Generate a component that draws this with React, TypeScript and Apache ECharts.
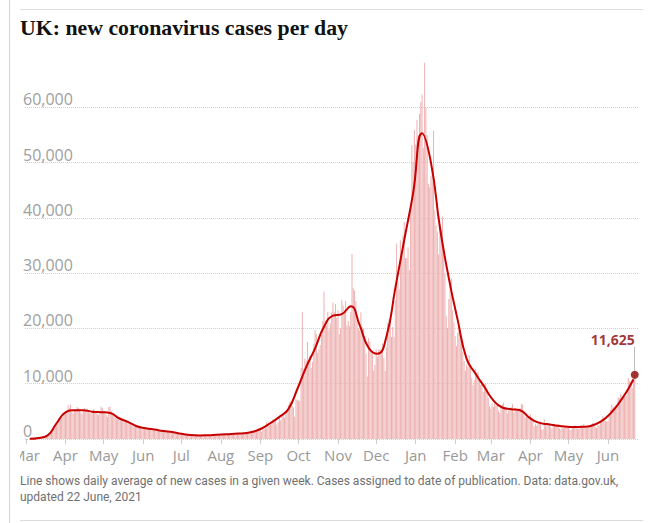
import React, { useEffect, useRef } from "react";
import * as echarts from "echarts";

// Daily new cases by publication date (UK)
const mar20 = [15, 20, 25, 40, 60, 80, 90, 110, 120, 150, 200, 250, 350, 450, 500, 550, 700, 900, 1100, 1300, 1500, 1600, 1900, 2500, 2900, 3200, 3600, 3900, 4100, 4300, 4500];
const apr20 = [4700, 5200, 6100, 5600, 6200, 4900, 4600, 5400, 5300, 5800, 5600, 5200, 4800, 4500, 5100, 5600, 5300, 5500, 5000, 4700, 4600, 5100, 5400, 5200, 4900, 4500, 4300, 4800, 5900, 5600];
const may20 = [5000, 4800, 4300, 4000, 5800, 5900, 5100, 4600, 4200, 3900, 3600, 3800, 4000, 3700, 3500, 3300, 3100, 3200, 3400, 3000, 2800, 2700, 2500, 2400, 2300, 2600, 2500, 2300, 2100, 2000, 1900];
const jun20 = [1900, 1800, 2000, 1900, 1800, 1700, 1600, 1600, 1700, 1650, 1500, 1500, 1450, 1400, 1350, 1400, 1450, 1400, 1300, 1250, 1200, 1250, 1300, 1250, 1200, 1100, 1050, 1000, 950, 900];
const jul20 = [850, 800, 750, 720, 700, 680, 650, 630, 640, 620, 600, 620, 640, 650, 660, 650, 640, 660, 670, 680, 700, 690, 680, 700, 720, 710, 700, 720, 740, 750, 760];
const aug20 = [780, 800, 790, 810, 850, 870, 880, 900, 880, 860, 900, 950, 1000, 1050, 1000, 980, 1020, 1050, 1080, 1100, 1120, 1080, 1050, 1100, 1150, 1200, 1250, 1300, 1350, 1400, 1450];
const sep20 = [1715, 1295, 1735, 1813, 1940, 2988, 2948, 2460, 2659, 2919, 3539, 3497, 3330, 2621, 3105, 3991, 3395, 4322, 4422, 3899, 4368, 4926, 6178, 6634, 6874, 6042, 5693, 4044, 7143, 7108];
const oct20 = [6914, 6968, 12872, 22961, 12594, 14542, 14162, 17540, 13864, 15166, 12872, 13972, 17234, 19724, 18980, 15650, 16171, 16982, 18804, 21331, 26688, 21242, 20530, 23012, 19790, 20890, 22885, 24701, 23065, 24405, 21915];
const nov20 = [23254, 18950, 20018, 25177, 24141, 23287, 24957, 20572, 21350, 20412, 22950, 33470, 27301, 26860, 24962, 21363, 20051, 19609, 22915, 20252, 19875, 18662, 15450, 11299, 18213, 17555, 16022, 15871, 12330, 13430];
const dec20 = [16202, 14879, 16170, 16298, 15539, 17272, 14718, 12282, 16578, 20964, 21672, 21502, 18447, 20263, 18450, 25161, 35383, 28507, 27052, 35928, 33364, 36804, 39237, 32725, 32725, 34693, 30501, 41385, 53135, 50023, 55892];
const jan21 = [53285, 57725, 54990, 58784, 60916, 62322, 52618, 68053, 59937, 54940, 46169, 45533, 47525, 48682, 55761, 41346, 38598, 37535, 33355, 38905, 37892, 40261, 33552, 30004, 22195, 20089, 25308, 28680, 29079, 23275, 21088];
const feb21 = [18607, 16840, 19202, 20634, 19114, 18262, 15845, 14104, 12364, 13494, 13013, 15144, 13308, 10972, 9765, 10625, 12718, 12057, 12027, 10406, 9834, 10641, 8489, 9938, 9985, 8523, 7434, 6035];
const mar21 = [5455, 6391, 5766, 6573, 6040, 6421, 5177, 4712, 5766, 6305, 6609, 5534, 5534, 4618, 5089, 5294, 5758, 6303, 4802, 5587, 5312, 5342, 5379, 5605, 6397, 6187, 4715, 3862, 4654, 4052, 4040];
const apr21 = [4479, 3402, 3423, 2297, 2762, 2379, 2763, 2982, 3150, 1730, 1730, 3568, 2472, 2491, 2672, 2596, 2206, 1882, 2524, 2729, 2396, 2729, 2678, 1946, 1712, 2064, 1963, 2166, 2381, 2020];
const may21 = [2061, 1671, 1649, 2357, 2166, 2490, 2364, 1907, 1770, 2357, 2474, 2284, 2657, 2193, 2027, 1926, 2439, 2412, 2696, 2874, 2829, 2235, 1979, 2439, 2493, 3180, 3542, 4182, 3398, 3240, 3165];
const jun21 = [3165, 4330, 5274, 6238, 5765, 5341, 5683, 6048, 7540, 7393, 8125, 7738, 7490, 7742, 7673, 9055, 11007, 10476, 10321, 9284, 10633, 11625];

const firstDate = "2020-03-01";

// Daily average of new cases in each week, plotted mid-week (Wednesdays from 4 March 2020)
const weeklyAverage = [50, 200, 650, 2850, 4800, 5200, 5200, 4950, 4850, 4700, 3750, 3100, 2300, 1950, 1700, 1450, 1250, 950, 720, 650, 700, 780, 850, 950, 1050, 1300, 1900, 2900, 4000, 5400, 9000, 13000, 16400, 20300, 22300, 22600, 24000, 20600, 16500, 15400, 18500, 27300, 36000, 44500, 55300, 50000, 38300, 29100, 21500, 14500, 11800, 9400, 7000, 5700, 5400, 5200, 3900, 3000, 2700, 2450, 2250, 2150, 2200, 2400, 3100, 4400, 6300, 8700];
// Final, partial week (20–22 June 2021), plotted at its middle day
const partialWeekAverage = 10800;

const monthLabels = ["Mar", "Apr", "May", "Jun", "Jul", "Aug", "Sep", "Oct", "Nov", "Dec", "Jan", "Feb", "Mar", "Apr", "May", "Jun"];
const monthStarts = ["2020-03-01", "2020-04-01", "2020-05-01", "2020-06-01", "2020-07-01", "2020-08-01", "2020-09-01", "2020-10-01", "2020-11-01", "2020-12-01", "2021-01-01", "2021-02-01", "2021-03-01", "2021-04-01", "2021-05-01", "2021-06-01"];

const yMax = 70000;
const yInterval = 10000;

const titleText = "UK: new coronavirus cases per day";
const noteLines = [
  "Line shows daily average of new cases in a given week. Cases assigned to date of publication. Data: data.gov.uk,",
  "updated 22 June, 2021",
];
const calloutStartValue = 12400;
const calloutEndValue = 16700;

const DAY = 86400000;
const ts = (s: string) => {
  const [y, m, d] = s.split("-").map(Number);
  return Date.UTC(y, m - 1, d);
};

export default function App() {
  const ref = useRef<HTMLDivElement>(null);

  useEffect(() => {
    if (!ref.current) return;
    const chart = echarts.init(ref.current, undefined, { renderer: "svg" });

    const start = ts(firstDate);
    const dayIndex = (s: string) => Math.round((ts(s) - start) / DAY);
    const daily = [mar20, apr20, may20, jun20, jul20, aug20, sep20, oct20, nov20, dec20, jan21, feb21, mar21, apr21, may21, jun21].flat();
    const barData = daily.map((v, i) => [i, v]);
    const lastX = daily.length - 1;
    const lastValue = daily[daily.length - 1];
    const lineData = weeklyAverage.map((v, i) => [3 + i * 7, v]);
    lineData.push([lastX - 1, partialWeekAverage]);
    const monthX = monthStarts.map(dayIndex);

    const sans = '"Open Sans", sans-serif';

    chart.setOption({
      animation: false,
      backgroundColor: "#ffffff",
      grid: { left: 25, right: 28, top: 52, bottom: 84, containLabel: false },
      xAxis: {
        type: "value",
        min: -0.785,
        max: 481.35,
        axisLine: { show: false },
        axisTick: {
          show: true,
          customValues: monthX,
          length: 5,
          lineStyle: { color: "#cccccc", width: 1 },
        },
        axisLabel: {
          customValues: monthX,
          formatter: (v: number) => {
            const i = monthX.indexOf(v);
            return i >= 0 ? monthLabels[i] : "";
          },
          color: "#999999",
          fontFamily: sans,
          fontSize: 15,
          margin: 8,
          hideOverlap: false,
        },
        splitLine: { show: false },
      },
      yAxis: {
        type: "value",
        min: 0,
        max: yMax,
        interval: yInterval,
        axisLine: { show: false },
        axisTick: { show: false },
        splitLine: {
          show: true,
          showMaxLine: false,
          lineStyle: { color: "#d0d0d0", type: "dotted", width: 1 },
        },
        axisLabel: {
          inside: true,
          margin: -2,
          showMaxLabel: false,
          verticalAlign: "bottom",
          color: "#a0a0a0",
          fontFamily: sans,
          fontSize: 16,
          formatter: (v: number) => (v >= yMax ? "" : v.toLocaleString("en-GB")),
        },
      },
      series: [
        {
          type: "bar",
          data: barData,
          barWidth: 1,
          itemStyle: { color: "#edb1b1" },
          silent: true,
          z: 2,
        },
        {
          type: "line",
          data: lineData,
          smooth: 0.5,
          symbol: "none",
          showSymbol: false,
          lineStyle: { color: "#c70000", width: 2 },
          silent: true,
          z: 3,
        },
        {
          type: "scatter",
          data: [[lastX, lastValue]],
          symbolSize: 8,
          itemStyle: { color: "#8b0000" },
          silent: true,
          z: 6,
          label: {
            show: true,
            position: "top",
            distance: 24,
            align: "right",
            formatter: () => lastValue.toLocaleString("en-GB"),
            color: "#8b0000",
            fontWeight: "bold",
            fontFamily: sans,
            fontSize: 14,
          },
          markLine: {
            silent: true,
            symbol: ["none", "none"],
            label: { show: false },
            lineStyle: { color: "#bbbbbb", width: 1, type: "solid" },
            data: [[{ coord: [lastX, calloutStartValue] }, { coord: [lastX, calloutEndValue] }]],
          },
        },
      ],
      graphic: [
        { type: "rect", shape: { x: 0, y: 443, width: 20, height: 30 }, style: { fill: "#ffffff" }, z: 100 },
        { type: "line", shape: { x1: 9.5, y1: 0, x2: 9.5, y2: 523 }, style: { stroke: "#d6d6d6", lineWidth: 1 }, z: 101 },
        { type: "line", shape: { x1: 20, y1: 9.5, x2: 643, y2: 9.5 }, style: { stroke: "#dcdcdc", lineWidth: 1 }, z: 101 },
        { type: "line", shape: { x1: 20, y1: 520.5, x2: 643, y2: 520.5 }, style: { stroke: "#dcdcdc", lineWidth: 1 }, z: 101 },
        {
          type: "text",
          x: 20,
          y: 28,
          z: 101,
          style: {
            text: titleText,
            fontFamily: '"Liberation Serif", serif',
            fontWeight: "bold",
            fontSize: 21.8,
            fill: "#121212",
            verticalAlign: "middle",
          },
        },
        ...noteLines.map((t, i) => ({
          type: "text",
          x: 20,
          y: 481 + i * 16,
          z: 101,
          style: {
            text: t,
            fontFamily: "Roboto, sans-serif",
            fontSize: 12,
            fill: "#707070",
            verticalAlign: "middle",
          },
        })),
      ],
    });

    return () => chart.dispose();
  }, []);

  return (
    <div
      ref={ref}
      style={{ position: "fixed", left: 0, top: 0, width: 667, height: 523, background: "#fff" }}
    />
  );
}
